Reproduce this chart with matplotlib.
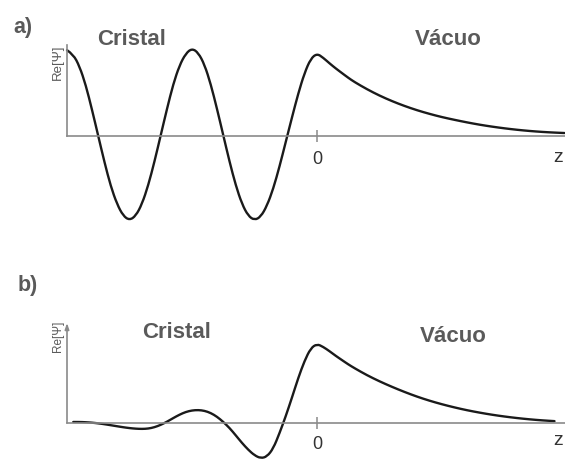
import matplotlib
matplotlib.use('Agg')
import matplotlib.pyplot as plt
from matplotlib.path import Path
from matplotlib.patches import PathPatch

# Re[psi] sampled along z (units of one crystal period), amplitude normalised
z_crystal_a = [-2.00, -1.95, -1.90, -1.85, -1.80, -1.75, -1.70, -1.65, -1.60, -1.55,
               -1.50, -1.45, -1.40, -1.35, -1.30, -1.25, -1.20, -1.15, -1.10, -1.05,
               -1.00, -0.95, -0.90, -0.85, -0.80, -0.75, -0.70, -0.65, -0.60, -0.55,
               -0.50, -0.45, -0.40, -0.35, -0.30, -0.25, -0.20, -0.15, -0.10, -0.05, 0.00]
psi_crystal_a = [1.01, 0.96, 0.82, 0.60, 0.31, 0.00, -0.31, -0.59, -0.80, -0.94,
                 -0.99, -0.94, -0.80, -0.58, -0.30, 0.01, 0.32, 0.61, 0.83, 0.97,
                 1.03, 0.98, 0.84, 0.61, 0.32, 0.01, -0.30, -0.58, -0.80, -0.94,
                 -0.99, -0.95, -0.82, -0.62, -0.36, -0.07, 0.22, 0.50, 0.74, 0.91, 0.97]

z_vacuum_a = [0.05, 0.10, 0.15, 0.20, 0.25, 0.30, 0.40, 0.50, 0.60, 0.70, 0.80, 0.90,
              1.00, 1.10, 1.20, 1.30, 1.40, 1.50, 1.60, 1.70, 1.80, 1.90, 1.98]
psi_vacuum_a = [0.92, 0.855, 0.795, 0.74, 0.685, 0.635, 0.55, 0.475, 0.41, 0.353, 0.303, 0.26,
                0.222, 0.19, 0.16, 0.133, 0.11, 0.09, 0.073, 0.059, 0.048, 0.04, 0.035]

z_crystal_b = [-1.95, -1.90, -1.85, -1.80, -1.75, -1.70, -1.65, -1.60, -1.55, -1.50,
               -1.45, -1.40, -1.35, -1.30, -1.25, -1.20, -1.15, -1.10, -1.05, -1.00,
               -0.95, -0.90, -0.85, -0.80, -0.75, -0.70, -0.65, -0.60, -0.55, -0.50,
               -0.45, -0.40, -0.35, -0.30, -0.25, -0.20, -0.15, -0.10, -0.05, 0.00]
psi_crystal_b = [0.012, 0.012, 0.009, 0.004, -0.004, -0.014, -0.026, -0.038, -0.050, -0.060,
                 -0.067, -0.070, -0.066, -0.050, -0.022, 0.015, 0.058, 0.098, 0.130, 0.148,
                 0.153, 0.144, 0.118, 0.074, 0.013, -0.058, -0.145, -0.235, -0.315, -0.380,
                 -0.415, -0.395, -0.300, -0.120, 0.080, 0.300, 0.530, 0.730, 0.880, 0.930]

z_vacuum_b = [0.05, 0.10, 0.15, 0.20, 0.25, 0.30, 0.40, 0.50, 0.60, 0.70, 0.80, 0.90,
              1.00, 1.10, 1.20, 1.30, 1.40, 1.50, 1.60, 1.70, 1.80, 1.90]
psi_vacuum_b = [0.895, 0.845, 0.79, 0.74, 0.69, 0.645, 0.562, 0.49, 0.425, 0.365, 0.31, 0.262,
                0.22, 0.183, 0.15, 0.122, 0.097, 0.076, 0.058, 0.043, 0.031, 0.022]

W, H = 565, 461
LABEL_COLOR = '#5a5a5a'
AXIS_COLOR = '#8a8a8a'
CURVE_COLOR = '#1a1a1a'

plt.rcParams['font.family'] = ['Liberation Sans', 'DejaVu Sans']

fig = plt.figure(figsize=(W / 100, H / 100), dpi=100)


def fx(px):
    return px / W


def fy(py):
    return 1 - py / H


def make_axes(top_px, bottom_px, base_px, scale_px):
    ax = fig.add_axes([fx(67), fy(bottom_px), fx(565 - 67), (bottom_px - top_px) / H])
    ax.set_xlim(-2, (565 - 317) / 125)
    ax.set_ylim(-(bottom_px - base_px) / scale_px, (base_px - top_px) / scale_px)
    ax.patch.set_alpha(0)
    for side in ('top', 'right'):
        ax.spines[side].set_visible(False)
    ax.spines['bottom'].set_position(('data', 0))
    ax.spines['bottom'].set_color(AXIS_COLOR)
    ax.spines['bottom'].set_linewidth(1.2)
    ax.spines['left'].set_color(AXIS_COLOR)
    ax.spines['left'].set_linewidth(1.2)
    ax.set_yticks([])
    ax.set_xticks([0])
    ax.set_xticklabels(['0'])
    return ax


def draw_wave(ax, zs, psis):
    # smooth quadratic path through the sampled values (midpoint scheme)
    pts = list(zip(zs, psis))
    verts = [pts[0]]
    codes = [Path.MOVETO]
    for i in range(1, len(pts) - 1):
        mid = ((pts[i][0] + pts[i + 1][0]) / 2, (pts[i][1] + pts[i + 1][1]) / 2)
        verts += [pts[i], mid]
        codes += [Path.CURVE3, Path.CURVE3]
    verts.append(pts[-1])
    codes.append(Path.LINETO)
    patch = PathPatch(Path(verts, codes), facecolor='none', edgecolor=CURVE_COLOR,
                      lw=1.7, capstyle='round', joinstyle='round',
                      transform=ax.transData, clip_on=False)
    ax.add_patch(patch)


# panel a: standing wave in the crystal, evanescent tail in vacuum
ax_a = make_axes(40, 230, 136, 85)
ax_a.spines['left'].set_bounds(0, (136 - 45) / 85)
draw_wave(ax_a, z_crystal_a + z_vacuum_a, psi_crystal_a + psi_vacuum_a)
ax_a.tick_params(axis='x', direction='inout', length=9, width=1.1, color=AXIS_COLOR,
                 pad=6, labelsize=13, labelcolor='#333333')

# panel b: surface state, decaying on both sides
ax_b = make_axes(318, 461, 423, 85)
ax_b.spines['left'].set_visible(False)
ax_b.annotate('', xy=(-2, (423 - 323) / 85), xytext=(-2, 0),
              arrowprops=dict(arrowstyle='-|>,head_length=0.35,head_width=0.12',
                              color=AXIS_COLOR, lw=1.2, shrinkA=0, shrinkB=0))
draw_wave(ax_b, z_crystal_b + z_vacuum_b, psi_crystal_b + psi_vacuum_b)
ax_b.tick_params(axis='x', direction='inout', length=9, width=1.1, color=AXIS_COLOR,
                 pad=5, labelsize=13, labelcolor='#333333')

# labels
bold = dict(fontweight='bold', color=LABEL_COLOR, va='baseline', ha='left')
fig.text(fx(13), fy(33), 'a)', fontsize=15.5, **bold)
fig.text(fx(97), fy(45), 'Cristal', fontsize=16, **bold)
fig.text(fx(415), fy(45), 'Vácuo', fontsize=16, **bold)
fig.text(fx(18), fy(291), 'b)', fontsize=15.5, **bold)
fig.text(fx(142), fy(338), 'Cristal', fontsize=16, **bold)
fig.text(fx(420), fy(342), 'Vácuo', fontsize=16, **bold)

fig.text(fx(58), fy(62), 'Re[Ψ]', rotation=90, fontsize=9.5,
         color=LABEL_COLOR, ha='center', va='center')
fig.text(fx(58), fy(336), 'Re[Ψ]', rotation=90, fontsize=8.5,
         color=LABEL_COLOR, ha='center', va='center')

fig.text(fx(553), fy(158), 'z', fontsize=14, color='#333333', ha='left', va='center')
fig.text(fx(553), fy(440), 'z', fontsize=14, color='#333333', ha='left', va='center')

fig.savefig('out.png', dpi=100)
